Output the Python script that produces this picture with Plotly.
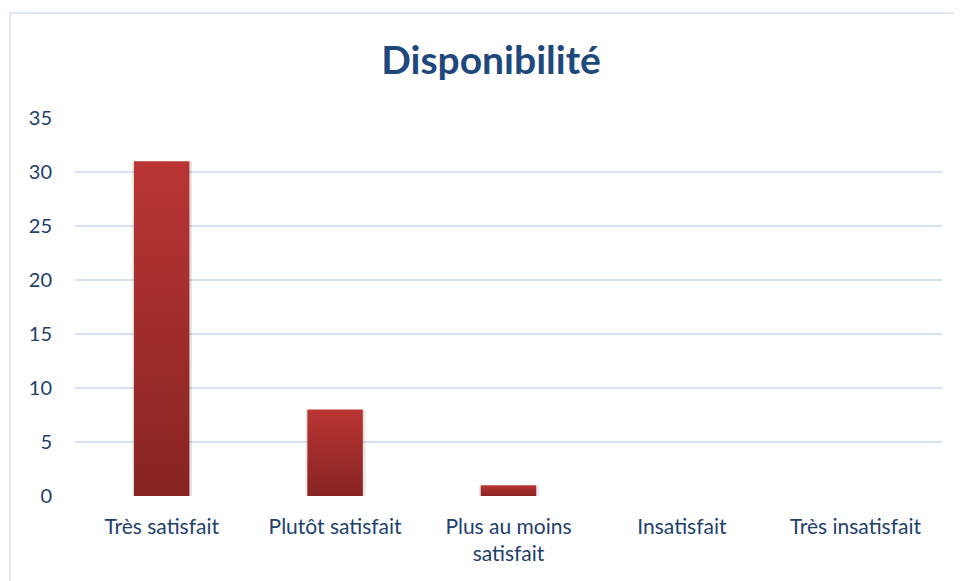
import plotly.graph_objects as go

categories = ["Très satisfait", "Plutôt satisfait", "Plus au moins<br>satisfait", "Insatisfait", "Très insatisfait"]
values = [31, 8, 1, 0, 0]
yticks = [0, 5, 10, 15, 20, 25, 30, 35]
title = "Disponibilité"

fig = go.Figure()
half = 0.16
for i, v in enumerate(values):
    if v <= 0:
        continue
    # shadow
    fig.add_trace(go.Scatter(
        x=[i - half - 0.01, i + half + 0.015, i + half + 0.015, i - half - 0.01, i - half - 0.01],
        y=[-0.25, -0.25, v - 0.05, v - 0.05, -0.25],
        fill="toself", mode="none", fillcolor="rgba(0,0,0,0.10)",
        hoverinfo="skip", showlegend=False, cliponaxis=False))
    fig.add_trace(go.Scatter(
        x=[i - half, i + half, i + half, i - half, i - half],
        y=[0, 0, v, v, 0],
        fill="toself", mode="none",
        fillgradient=dict(type="vertical", start=0, stop=v,
                          colorscale=[[0, "#872422"], [1, "#B93533"]]),
        hoverinfo="skip", showlegend=False))

fig.update_layout(
    width=962, height=581,
    paper_bgcolor="white", plot_bgcolor="white",
    margin=dict(l=67, r=28, t=110, b=93),
    font=dict(family="Lato, Calibri, sans-serif", size=20, color="#22406C"),
    title=dict(text="<b>" + title + "</b>", x=(491 - 8 - 67) / 867, xanchor="center", xref="paper",
               y=1 - 52 / 581, yanchor="middle",
               font=dict(family="Lato, Calibri, sans-serif", size=39, color="#1F497D")),
    showlegend=False,
)
fig.update_xaxes(
    range=[-0.5, 4.5], tickvals=list(range(len(categories))), ticktext=categories,
    showgrid=False, zeroline=False, showline=False, ticks="",
    tickfont=dict(size=21), ticklabelstandoff=16, fixedrange=True,
)
fig.update_yaxes(
    range=[0, 35], tickvals=yticks, showgrid=True, gridcolor="#D6E2F2", gridwidth=2,
    zeroline=False, showline=False, ticks="", ticklabelstandoff=22, fixedrange=True,
)
fig.add_shape(type="rect", xref="paper", yref="paper",
              x0=(10 - 75) / 867, x1=1.2, y0=-0.5, y1=1 + (118 - 13) / 378,
              line=dict(color="#D6E2F2", width=1.5), fillcolor="rgba(0,0,0,0)", layer="below")

fig.write_html("out.html")
